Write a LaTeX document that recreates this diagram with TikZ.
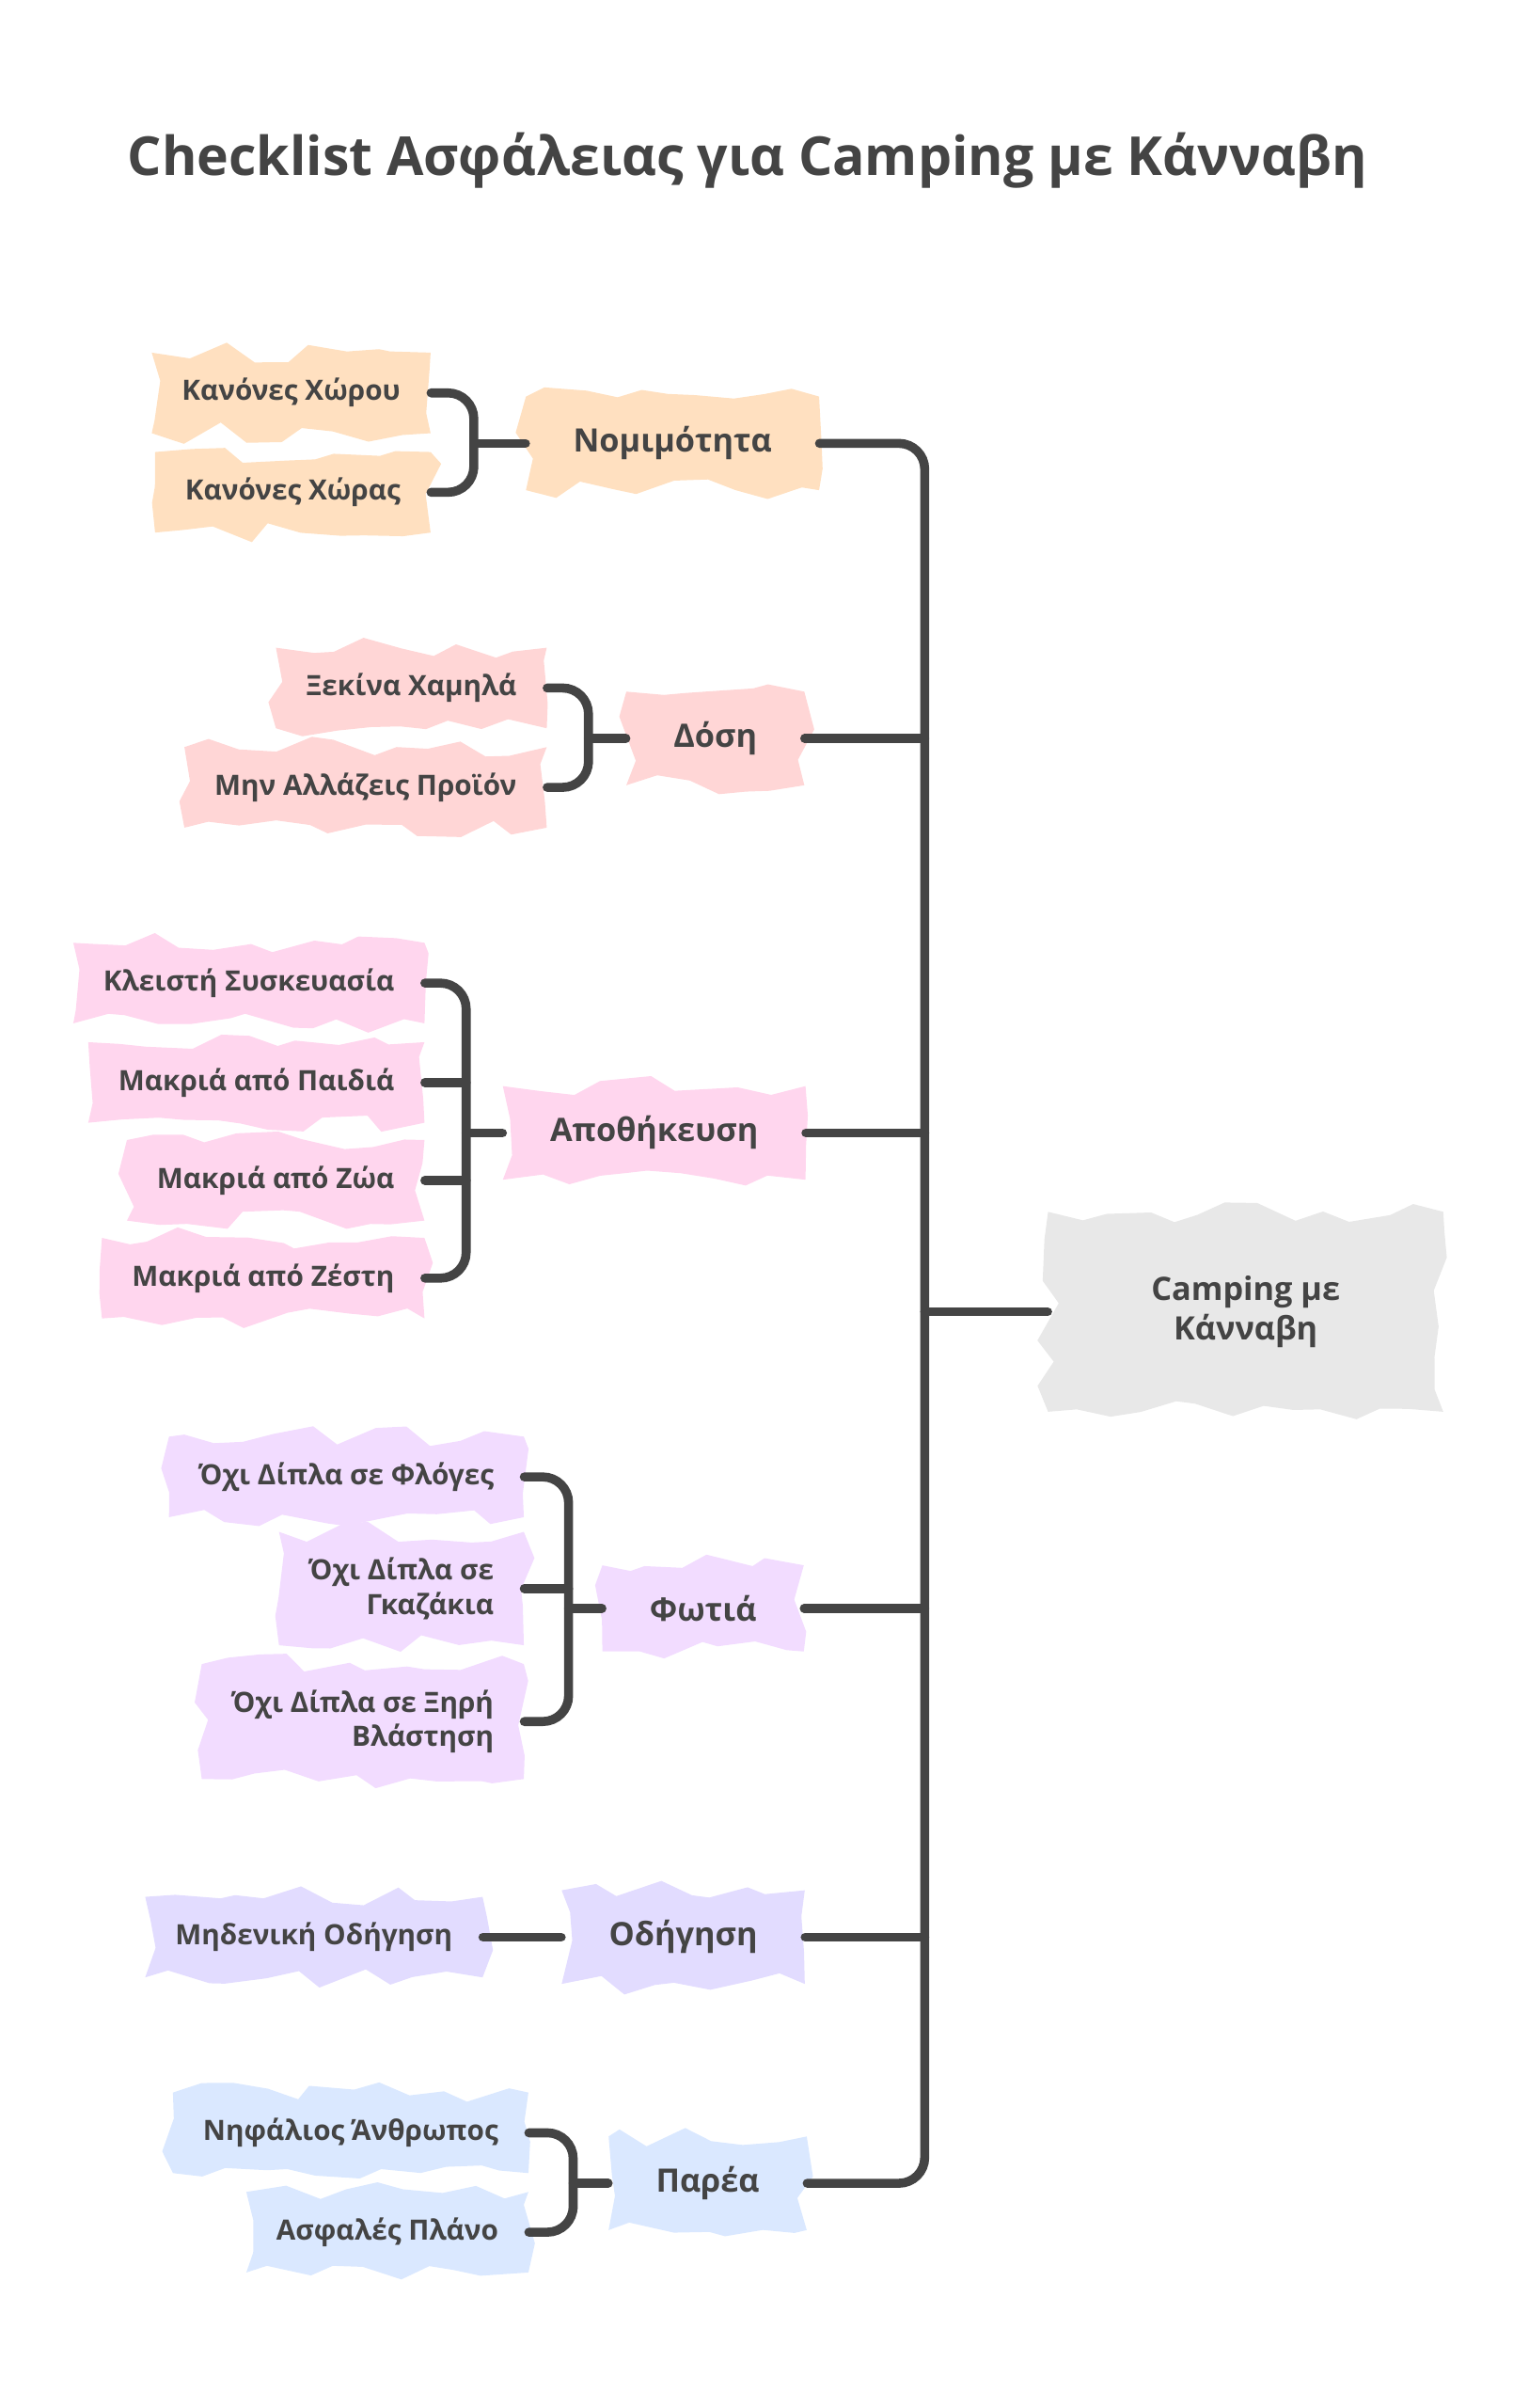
\documentclass[tikz,border=0pt]{standalone}
\usepackage{fontspec}
\setmainfont{Open Sans}
\usepackage{tikz}
\usetikzlibrary{positioning,arrows.meta,calc,decorations.pathmorphing}
\definecolor{inkgray}{RGB}{68,68,68}
\definecolor{legalc}{RGB}{255,224,192}
\definecolor{dosec}{RGB}{255,214,214}
\definecolor{storec}{RGB}{255,214,238}
\definecolor{firec}{RGB}{242,220,255}
\definecolor{drivec}{RGB}{226,220,255}
\definecolor{crewc}{RGB}{218,232,255}
\definecolor{rootc}{RGB}{232,232,232}

\begin{document}
\begin{tikzpicture}[
  x=0.025cm, y=-0.025cm,
  blob/.style={decorate, decoration={random steps,segment length=14pt,amplitude=5pt},
               text=inkgray, font=\bfseries\fontsize{13}{16}\selectfont, align=right,
               inner xsep=14pt, inner ysep=12pt},
  leaf/.style={blob, anchor=east},
  branch/.style={blob, font=\bfseries\fontsize{15}{18}\selectfont, inner xsep=22pt, inner ysep=14pt},
  conn/.style={draw=inkgray, line width=4.2pt, rounded corners=12pt, line cap=round}
]
\pgfmathsetseed{7}
\useasboundingbox (0,0) rectangle (1000,1575);

\node[text=inkgray, font=\bfseries\fontsize{25}{30}\selectfont] (title) at (489,105) {Checklist Ασφάλειας για Camping με Κάνναβη};

% Root and branches
\node[blob, fill=rootc, align=center, font=\bfseries\fontsize{15}{18}\selectfont,
      inner xsep=48pt, inner ysep=30pt] (root) at (815,858) {Camping με\\Κάνναβη};
\node[branch, fill=legalc] (nom) at (440,290) {Νομιμότητα};
\node[branch, fill=dosec] (dos) at (468,483) {Δόση};
\node[branch, fill=storec] (apo) at (428,741) {Αποθήκευση};
\node[branch, fill=firec] (fot) at (460,1052) {Φωτιά};
\node[branch, fill=drivec] (odi) at (447,1267) {Οδήγηση};
\node[branch, fill=crewc] (par) at (463,1428) {Παρέα};

% Leaves
\node[leaf, fill=legalc] (nom1) at (282,257) {Κανόνες Χώρου};
\node[leaf, fill=legalc] (nom2) at (282,322) {Κανόνες Χώρας};
\node[leaf, fill=dosec] (dos1) at (358,450) {Ξεκίνα Χαμηλά};
\node[leaf, fill=dosec] (dos2) at (358,515) {Μην Αλλάζεις Προϊόν};
\node[leaf, fill=storec] (apo1) at (278,643) {Κλειστή Συσκευασία};
\node[leaf, fill=storec] (apo2) at (278,708) {Μακριά από Παιδιά};
\node[leaf, fill=storec] (apo3) at (278,772) {Μακριά από Ζώα};
\node[leaf, fill=storec] (apo4) at (278,836) {Μακριά από Ζέστη};
\node[leaf, fill=firec] (fot1) at (343,966) {Όχι Δίπλα σε Φλόγες};
\node[leaf, fill=firec] (fot2) at (343,1039) {Όχι Δίπλα σε\\Γκαζάκια};
\node[leaf, fill=firec] (fot3) at (343,1126) {Όχι Δίπλα σε Ξηρή\\Βλάστηση};
\node[leaf, fill=drivec] (odi1) at (316,1267) {Μηδενική Οδήγηση};
\node[leaf, fill=crewc] (par1) at (346,1395) {Νηφάλιος Άνθρωπος};
\node[leaf, fill=crewc] (par2) at (346,1460) {Ασφαλές Πλάνο};

% Joints
\coordinate (jnom) at (310,290);
\coordinate (jdos) at (385,483);
\coordinate (japo) at (305,741);
\coordinate (jfot) at (372,1052);
\coordinate (jpar) at (375,1428);
\coordinate (ttop) at (605,290);
\coordinate (tbot) at (605,1428);

% Connectors
\draw[conn] (nom.east) -- (ttop) -- (tbot) -- (par.east);
\draw[conn] (dos.east) -- (dos.east -| ttop);
\draw[conn] (apo.east) -- (apo.east -| ttop);
\draw[conn] (fot.east) -- (fot.east -| ttop);
\draw[conn] (odi.east) -- (odi.east -| ttop);
\draw[conn] (root.west) -- (root.west -| ttop);

\draw[conn] (nom1.east) -| (jnom) |- (nom2.east);
\draw[conn] (jnom) -- (nom.west);
\draw[conn] (dos1.east) -| (jdos) |- (dos2.east);
\draw[conn] (jdos) -- (dos.west);
\draw[conn] (apo1.east) -| (japo) |- (apo4.east);
\draw[conn] (apo2.east) -- (apo2.east -| japo);
\draw[conn] (apo3.east) -- (apo3.east -| japo);
\draw[conn] (japo) -- (apo.west);
\draw[conn] (fot1.east) -| (jfot) |- (fot3.east);
\draw[conn] (fot2.east) -- (fot2.east -| jfot);
\draw[conn] (jfot) -- (fot.west);
\draw[conn] (odi1.east) -- (odi.west);
\draw[conn] (par1.east) -| (jpar) |- (par2.east);
\draw[conn] (jpar) -- (par.west);

\end{tikzpicture}
\end{document}
